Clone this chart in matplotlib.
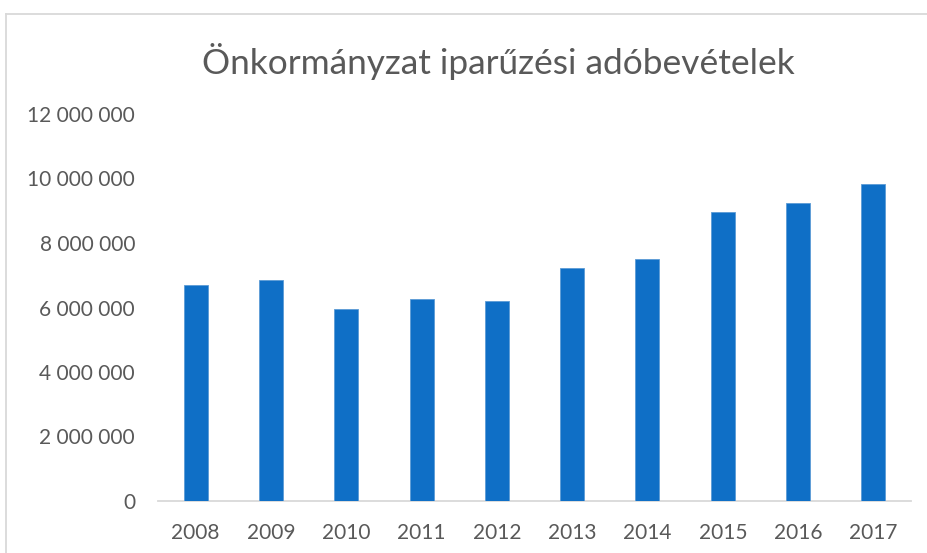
import matplotlib
matplotlib.use("Agg")
import matplotlib.pyplot as plt
from matplotlib.lines import Line2D
from matplotlib.ticker import FuncFormatter

years = ["2008", "2009", "2010", "2011", "2012", "2013", "2014", "2015", "2016", "2017"]
values = [6700000, 6850000, 5940000, 6250000, 6200000, 7220000, 7490000, 8950000, 9230000, 9820000]
title = "Önkormányzat iparűzési adóbevételek"
yticks = [0, 2000000, 4000000, 6000000, 8000000, 10000000, 12000000]

plt.rcParams['font.family'] = ['Lato', 'DejaVu Sans']

W, H = 927, 553
fig = plt.figure(figsize=(W / 100, H / 100), dpi=100)
ax = fig.add_axes([158 / W, (H - 501) / H, (911 - 158) / W, (501 - 114) / H])

x = range(len(years))
ax.bar(x, values, width=0.32, color="#0F6FC6", edgecolor="#5B9BD5", linewidth=0.6, zorder=3)
ax.set_xlim(-0.5, len(years) - 0.5)
ax.set_ylim(0, 12000000)
ax.set_yticks(yticks)
ax.yaxis.set_major_formatter(FuncFormatter(lambda v, p: f"{int(v):,}".replace(",", " ")))
ax.set_xticks(list(x))
ax.set_xticklabels(years)

for s in ["top", "right", "left"]:
    ax.spines[s].set_visible(False)
ax.spines["bottom"].set_color("#D9D9D9")
ax.spines["bottom"].set_linewidth(1.3)
ax.tick_params(axis="both", length=0, labelsize=15, colors="#595959")
ax.tick_params(axis="y", pad=16.5)
ax.tick_params(axis="x", pad=16)

fig.text(498 / W, 1 - 62 / H, title, ha="center", va="center", fontsize=25.4,
         color="#595959")

# chart area border (left and top visible)
fig.add_artist(Line2D([5.5 / W, 5.5 / W], [0, 1 - 14 / H], transform=fig.transFigure, color="#D9D9D9", lw=1.3))
fig.add_artist(Line2D([5.5 / W, 1], [1 - 14 / H, 1 - 14 / H], transform=fig.transFigure, color="#D9D9D9", lw=1.3))

fig.savefig("out.png", dpi=100)
